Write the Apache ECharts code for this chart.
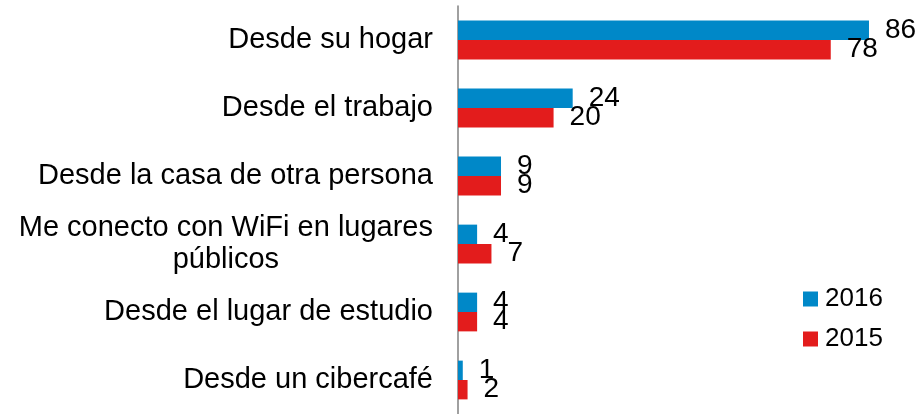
<!DOCTYPE html>
<html>
<head>
<meta charset="utf-8">
<script src="https://cdn.jsdelivr.net/npm/echarts@6/dist/echarts.min.js"></script>
<style>
  html, body { margin: 0; padding: 0; background: #fff; }
  #chart { width: 924px; height: 414px; }
</style>
</head>
<body>
<div id="chart"></div>
<script>
// datos
const categories = [
  'Desde su hogar',
  'Desde el trabajo',
  'Desde la casa de otra persona',
  'Me conecto con WiFi en lugares públicos',
  'Desde el lugar de estudio',
  'Desde un cibercafé'
];
const values2016 = [86, 24, 9, 4, 4, 1];
const values2015 = [78, 20, 9, 7, 4, 2];
const seriesNames = ['2016', '2015'];

const chart = echarts.init(document.getElementById('chart'));

const labelStyle = {
  show: true,
  position: 'right',
  distance: 16,
  fontFamily: 'Liberation Sans, Arial, sans-serif',
  fontSize: 28,
  color: '#000'
};

const option = {
  animation: false,
  textStyle: { fontFamily: 'Liberation Sans, Arial, sans-serif' },
  grid: { left: 458, right: 12, top: 6, bottom: -6 },
  legend: {
    orient: 'vertical',
    left: 798,
    top: 281,
    icon: 'rect',
    itemWidth: 15,
    itemHeight: 15,
    itemGap: 14,
    textStyle: { fontSize: 26, color: '#000', padding: [0, 0, 0, 2] },
    data: seriesNames
  },
  xAxis: {
    type: 'value',
    min: 0,
    max: 95,
    show: false
  },
  yAxis: {
    type: 'category',
    inverse: true,
    data: categories,
    axisLine: { show: true, lineStyle: { color: '#808080', width: 1.5 } },
    axisTick: { show: false },
    axisLabel: {
      margin: 25,
      fontSize: 29,
      color: '#000',
      align: 'right',
      formatter: function (v) {
        if (v.indexOf('WiFi') >= 0) {
          return '{c|Me conecto con WiFi en lugares}\n{c|públicos}';
        }
        return v;
      },
      rich: {
        c: { align: 'center', fontSize: 29, color: '#000', lineHeight: 32 }
      }
    }
  },
  series: [
    {
      name: seriesNames[0],
      type: 'bar',
      data: values2016,
      barGap: '0%',
      barCategoryGap: '43%',
      itemStyle: { color: '#0088c8' },
      label: labelStyle
    },
    {
      name: seriesNames[1],
      type: 'bar',
      data: values2015,
      barGap: '0%',
      barCategoryGap: '43%',
      itemStyle: { color: '#e31c1c' },
      label: labelStyle
    }
  ]
};

chart.setOption(option);
window.addEventListener('resize', () => chart.resize());
</script>
</body>
</html>
